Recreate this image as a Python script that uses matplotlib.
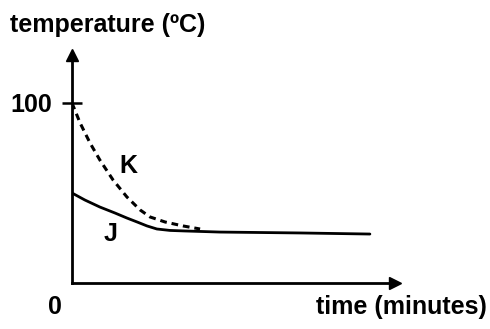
import matplotlib
matplotlib.use("Agg")
import matplotlib.pyplot as plt

plt.rcParams['font.family'] = ['Liberation Sans', 'DejaVu Sans']

# Data (time in minutes, temperature in degC)
j_time = [0, 0.43, 0.93, 1.43, 1.83, 2.17, 2.5, 2.83, 3.27, 3.77, 4.93, 7.6, 9.93]
j_temp = [50, 46.1, 42.2, 38.9, 36.1, 33.9, 31.7, 30.0, 29.2, 28.9, 28.3, 27.8, 27.2]
k_time = [0, 0.27, 0.6, 0.93, 1.37, 1.83, 2.27, 2.6, 3.1, 3.7, 4.27]
k_temp = [100, 88.9, 77.8, 68.3, 57.2, 47.8, 40.6, 36.7, 33.9, 31.7, 30.0]
y_ticks = [100]
y_tick_labels = ["100"]

fig = plt.figure(figsize=(4.9, 3.29), dpi=100)
ax = fig.add_axes([72/490, (329-283)/329, 323/490, 228/329])
ax.set_xlim(0, 323/30)
ax.set_ylim(0, 228/1.8)

for s in ['top', 'right']:
    ax.spines[s].set_visible(False)
for s in ['left', 'bottom']:
    ax.spines[s].set_linewidth(2.0)
    ax.spines[s].set_color('black')

ax.plot(j_time, j_temp, color='black', lw=2.0, solid_capstyle='round', solid_joinstyle='round')
ax.plot(k_time, k_temp, color='black', lw=2.2, ls=(0, (2.2, 1.6)))

ax.set_xticks([])
ax.set_yticks(y_ticks)
ax.set_yticklabels(y_tick_labels, fontsize=18, fontweight='bold')
ax.tick_params(axis='y', direction='inout', length=14, width=1.8, pad=7)

# arrow heads
ax.plot(0, 1, marker='^', markersize=8, color='black', transform=ax.transAxes, clip_on=False)
ax.plot(1, 0, marker='>', markersize=8, color='black', transform=ax.transAxes, clip_on=False)

ax.text(1.87, 65, 'K', fontsize=18, fontweight='bold', ha='center', va='center')
ax.text(1.27, 27, 'J', fontsize=18, fontweight='bold', ha='center', va='center')

fig.text(55/490, 1-307/329, '0', fontsize=18, fontweight='bold', ha='center', va='center')
fig.text(487/490, 1-307/329, 'time (minutes)', fontsize=18, fontweight='bold', ha='right', va='center')
fig.text(10/490, 1-25/329, 'temperature (ºC)', fontsize=18, fontweight='bold', ha='left', va='center')

fig.savefig('out.png', dpi=100)
